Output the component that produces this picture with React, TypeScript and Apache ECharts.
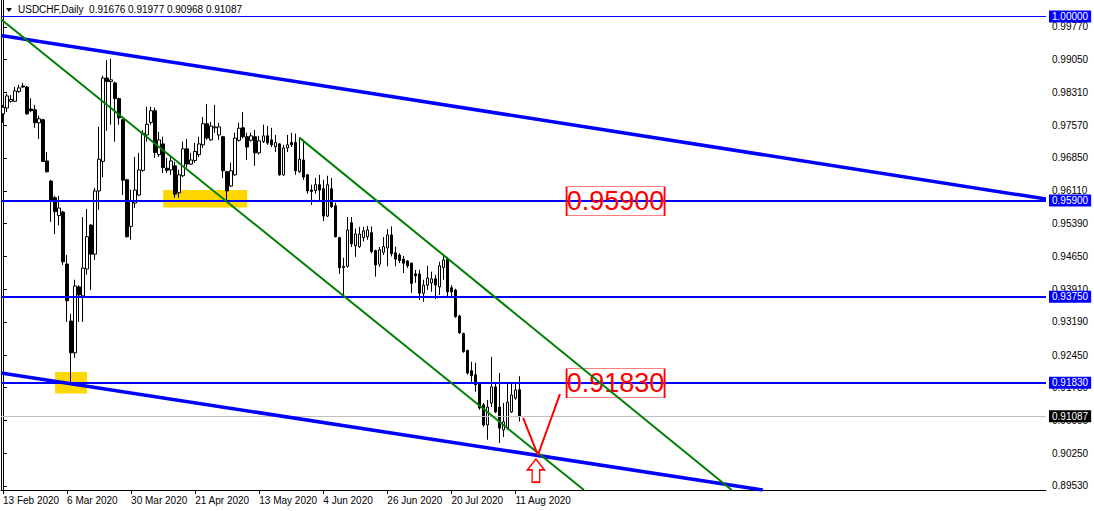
import React, { useEffect, useRef } from "react";
import * as echarts from "echarts";

// ---- Daily candles USDCHF (13 Feb 2020 onward) ----
const opens = [
  0.9783, 0.9796, 0.9811, 0.9811, 0.9833, 0.9845, 0.9843, 0.9794, 0.9792, 0.9763,
  0.9770, 0.9678, 0.9633, 0.9596, 0.9556, 0.9564, 0.9448, 0.9321, 0.9250, 0.9397,
  0.9377, 0.9437, 0.9535, 0.9470, 0.9611, 0.9677, 0.9863, 0.9855, 0.9852, 0.9817,
  0.9770, 0.9636, 0.9532, 0.9584, 0.9602, 0.9657, 0.9736, 0.9764, 0.9790, 0.9692,
  0.9716, 0.9662, 0.9658, 0.9667, 0.9607, 0.9645, 0.9705, 0.9671, 0.9679, 0.9692,
  0.9714, 0.9761, 0.9725, 0.9752, 0.9736, 0.9732, 0.9654, 0.9622, 0.9647, 0.9724,
  0.9752, 0.9732, 0.9724, 0.9732, 0.9696, 0.9721, 0.9734, 0.9725, 0.9710, 0.9716,
  0.9647, 0.9707, 0.9719, 0.9719, 0.9654, 0.9680, 0.9647, 0.9613, 0.9612, 0.9625,
  0.9616, 0.9555, 0.9616, 0.9578, 0.9507, 0.9440, 0.9443, 0.9540, 0.9489, 0.9487,
  0.9507, 0.9509, 0.9518, 0.9478, 0.9448, 0.9474, 0.9484, 0.9513, 0.9473, 0.9468,
  0.9459, 0.9455, 0.9450, 0.9426, 0.9426, 0.9383, 0.9401, 0.9406, 0.9415, 0.9397,
  0.9440, 0.9459, 0.9395, 0.9390, 0.9332, 0.9293, 0.9255, 0.9210, 0.9201, 0.9183,
  0.9134, 0.9089, 0.9138, 0.9174, 0.9129, 0.9078, 0.9082, 0.9118, 0.9149, 0.91676,
];
const highs = [
  0.9803, 0.9828, 0.9825, 0.9843, 0.9848, 0.9852, 0.9845, 0.9818, 0.9803, 0.9779,
  0.9772, 0.9698, 0.9636, 0.9600, 0.9600, 0.9567, 0.9468, 0.9337, 0.9413, 0.9401,
  0.9553, 0.9571, 0.9537, 0.9618, 0.9754, 0.9868, 0.9903, 0.9906, 0.9855, 0.9819,
  0.9772, 0.9638, 0.9614, 0.9687, 0.9696, 0.9747, 0.9799, 0.9799, 0.9797, 0.9743,
  0.9732, 0.9685, 0.9687, 0.9676, 0.9658, 0.9721, 0.9727, 0.9696, 0.9718, 0.9732,
  0.9776, 0.9805, 0.9765, 0.9803, 0.9763, 0.9734, 0.9656, 0.9674, 0.9741, 0.9763,
  0.9787, 0.9741, 0.9741, 0.9747, 0.9734, 0.9759, 0.9756, 0.9752, 0.9736, 0.9718,
  0.9714, 0.9736, 0.9741, 0.9739, 0.9730, 0.9725, 0.9649, 0.9625, 0.9640, 0.9647,
  0.9636, 0.9645, 0.9640, 0.9585, 0.9509, 0.9462, 0.9553, 0.9553, 0.9527, 0.9531,
  0.9531, 0.9533, 0.9532, 0.9480, 0.9486, 0.9508, 0.9526, 0.9532, 0.9487, 0.9472,
  0.9466, 0.9457, 0.9451, 0.9435, 0.9435, 0.9413, 0.9444, 0.9431, 0.9424, 0.9453,
  0.9466, 0.9464, 0.9401, 0.9393, 0.9335, 0.9295, 0.9257, 0.9230, 0.9228, 0.9185,
  0.9138, 0.9145, 0.9241, 0.9183, 0.9205, 0.9138, 0.9183, 0.9183, 0.9183, 0.91977,
];
const lows = [
  0.9763, 0.9787, 0.9808, 0.9810, 0.9830, 0.9841, 0.9781, 0.9787, 0.9752, 0.9727,
  0.9676, 0.9652, 0.9542, 0.9515, 0.9534, 0.9446, 0.9319, 0.9183, 0.9239, 0.9319,
  0.9319, 0.9424, 0.9390, 0.9457, 0.9569, 0.9642, 0.9745, 0.9759, 0.9721, 0.9759,
  0.9602, 0.9507, 0.9502, 0.9573, 0.9600, 0.9654, 0.9721, 0.9759, 0.9685, 0.9687,
  0.9651, 0.9651, 0.9647, 0.9596, 0.9596, 0.9642, 0.9663, 0.9669, 0.9674, 0.9687,
  0.9707, 0.9725, 0.9723, 0.9741, 0.9725, 0.9640, 0.9591, 0.9620, 0.9645, 0.9721,
  0.9728, 0.9680, 0.9721, 0.9667, 0.9692, 0.9718, 0.9714, 0.9709, 0.9698, 0.9645,
  0.9645, 0.9698, 0.9709, 0.9647, 0.9651, 0.9636, 0.9605, 0.9580, 0.9605, 0.9587,
  0.9544, 0.9553, 0.9573, 0.9507, 0.9426, 0.9375, 0.9440, 0.9486, 0.9464, 0.9484,
  0.9498, 0.9502, 0.9472, 0.9420, 0.9442, 0.9468, 0.9443, 0.9465, 0.9443, 0.9450,
  0.9428, 0.9439, 0.9384, 0.9406, 0.9368, 0.9364, 0.9390, 0.9386, 0.9370, 0.9379,
  0.9413, 0.9375, 0.9375, 0.9328, 0.9292, 0.9250, 0.9201, 0.9183, 0.9163, 0.9123,
  0.9085, 0.9056, 0.9129, 0.9116, 0.9049, 0.9062, 0.9078, 0.9116, 0.9145, 0.90968,
];
const closes = [
  0.9798, 0.9823, 0.9815, 0.9834, 0.9841, 0.9843, 0.9783, 0.9790, 0.9763, 0.9772,
  0.9677, 0.9654, 0.9589, 0.9565, 0.9573, 0.9453, 0.9366, 0.9250, 0.9399, 0.9379,
  0.9439, 0.9509, 0.9470, 0.9611, 0.9682, 0.9863, 0.9855, 0.9859, 0.9817, 0.9774,
  0.9635, 0.9509, 0.9588, 0.9613, 0.9658, 0.9740, 0.9760, 0.9790, 0.9697, 0.9725,
  0.9663, 0.9657, 0.9678, 0.9604, 0.9647, 0.9705, 0.9671, 0.9680, 0.9699, 0.9716,
  0.9761, 0.9729, 0.9756, 0.9754, 0.9754, 0.9656, 0.9611, 0.9656, 0.9729, 0.9751,
  0.9732, 0.9709, 0.9734, 0.9696, 0.9723, 0.9734, 0.9718, 0.9714, 0.9719, 0.9647,
  0.9707, 0.9714, 0.9714, 0.9656, 0.9682, 0.9642, 0.9611, 0.9610, 0.9625, 0.9613,
  0.9555, 0.9625, 0.9576, 0.9509, 0.9440, 0.9443, 0.9524, 0.9493, 0.9515, 0.9515,
  0.9522, 0.9524, 0.9476, 0.9446, 0.9480, 0.9487, 0.9513, 0.9471, 0.9459, 0.9456,
  0.9450, 0.9444, 0.9405, 0.9422, 0.9383, 0.9401, 0.9417, 0.9415, 0.9401, 0.9444,
  0.9457, 0.9386, 0.9386, 0.9331, 0.9295, 0.9253, 0.9205, 0.9199, 0.9179, 0.9127,
  0.9089, 0.9129, 0.9174, 0.9118, 0.9082, 0.9096, 0.9140, 0.9156, 0.9167, 0.91087,
];

const SYMBOL = "USDCHF,Daily";
const START_DATE = [2020, 1, 13]; // 13 Feb 2020
const MONTHS = ["Jan", "Feb", "Mar", "Apr", "May", "Jun", "Jul", "Aug", "Sep", "Oct", "Nov", "Dec"];
const TOTAL_SLOTS = 261; // bar slots across the chart width (empty ones on the right)
const LABEL_EVERY = 16;

// price-scale tick labels
const priceTicks = [0.9977, 0.9905, 0.9831, 0.9757, 0.9685, 0.9611, 0.9539, 0.9465, 0.9391, 0.9319, 0.9245, 0.9173, 0.9099, 0.9025, 0.8953];
const Y_MIN = 0.8944;
const Y_MAX = 1.0037;

// horizontal levels
const levels = [1.0, 0.959, 0.9375, 0.9183];
// trend lines: [barIndex, price] endpoints
const blueTrends = [
  [[-0.5, 0.9958], [260.5, 0.9593]],
  [[-0.5, 0.9205], [189.75, 0.8944]],
];
const greenTrends = [
  [[-0.5, 0.9994], [145.1, 0.8944]],
  [[74, 0.973], [182, 0.8944]],
];
// yellow zones: [[bar1, price1], [bar2, price2]]
const zones = [
  [[40, 0.9613], [61, 0.9574]],
  [[13, 0.9207], [21, 0.9159]],
];
const boxLabels = [
  { bar: 153, price: 0.9588, text: "0.95900" },
  { bar: 153, price: 0.9182, text: "0.91830" },
];
const vMark = [[129.9, 0.9105], [133.6, 0.9022], [139.1, 0.9158]];
const arrowMark = [133.1, 0.8987];

const FONT = "'Liberation Sans', Arial, sans-serif";

function buildDates(count: number): string[] {
  const out: string[] = [];
  const d = new Date(Date.UTC(START_DATE[0], START_DATE[1], START_DATE[2]));
  while (out.length < count) {
    const wd = d.getUTCDay();
    if (wd !== 0 && wd !== 6) {
      out.push(`${d.getUTCDate()} ${MONTHS[d.getUTCMonth()]} ${d.getUTCFullYear()}`);
    }
    d.setUTCDate(d.getUTCDate() + 1);
  }
  return out;
}

export default function App() {
  const ref = useRef<HTMLDivElement>(null);
  useEffect(() => {
    if (!ref.current) return;
    const chart = echarts.init(ref.current, undefined, { renderer: "svg" });
    const n = closes.length;
    const dates = buildDates(n);
    const categories: string[] = [];
    for (let i = 0; i < TOTAL_SLOTS; i++) categories.push(i < n ? dates[i] : "");
    const candles = opens.map((o, i) => [o, closes[i], lows[i], highs[i]]);
    const last = n - 1;
    const fmt = (v: number) => v.toFixed(5);
    const labelInterval = (index: number) => index % LABEL_EVERY === 0 && index < n;

    const levelLabel = (text: string, bg: string) => ({
      show: true,
      position: "end",
      distance: 3,
      formatter: text,
      backgroundColor: bg,
      color: "#ffffff",
      fontSize: 10,
      fontFamily: FONT,
      padding: [1, 3, 0, 3],
      lineHeight: 11,
    });

    const option: any = {
      animation: false,
      backgroundColor: "#ffffff",
      title: {
        text: `${SYMBOL}  ${fmt(opens[last])} ${fmt(highs[last])} ${fmt(lows[last])} ${fmt(closes[last])}`,
        left: 18,
        top: 4,
        padding: 0,
        textStyle: { fontSize: 10, fontWeight: "normal", color: "#000", fontFamily: FONT },
      },
      graphic: [
        { type: "polygon", shape: { points: [[6, 8], [12, 8], [9, 12]] }, style: { fill: "#000" } },
      ],
      grid: { left: 1, right: 48, top: 0, bottom: 21, containLabel: false },
      xAxis: [
        {
          type: "category",
          data: categories,
          boundaryGap: true,
          axisLine: { show: true, lineStyle: { color: "#000", width: 1 } },
          axisTick: { show: true, alignWithLabel: true, length: 4, interval: labelInterval, lineStyle: { color: "#000" } },
          axisLabel: { interval: labelInterval, align: "left", margin: 5, fontSize: 10, color: "#000", fontFamily: FONT },
          splitLine: { show: false },
        },
        { type: "value", min: -0.5, max: TOTAL_SLOTS - 0.5, show: false },
      ],
      yAxis: [
        {
          type: "value",
          position: "right",
          min: Y_MIN,
          max: Y_MAX,
          axisLine: { show: true, lineStyle: { color: "#000", width: 1 } },
          axisTick: { show: true, length: 4, customValues: priceTicks, lineStyle: { color: "#000" } },
          axisLabel: { customValues: priceTicks, formatter: (v: number) => fmt(v), fontSize: 10, color: "#000", margin: 6, fontFamily: FONT },
          splitLine: { show: false },
        },
        {
          type: "value",
          position: "left",
          min: Y_MIN,
          max: Y_MAX,
          axisLine: { show: true, lineStyle: { color: "#000", width: 1 } },
          axisTick: { show: false },
          axisLabel: { show: false },
          splitLine: { show: false },
        },
      ],
      series: [
        {
          type: "line",
          name: "zones",
          xAxisIndex: 1,
          yAxisIndex: 0,
          data: [],
          z: 1,
          silent: true,
          markArea: {
            silent: true,
            itemStyle: { color: "#FFD700" },
            data: zones.map((z) => [{ coord: z[0] }, { coord: z[1] }]),
          },
        },
        {
          type: "candlestick",
          name: SYMBOL,
          xAxisIndex: 0,
          yAxisIndex: 0,
          data: candles,
          barWidth: 3,
          z: 2,
          itemStyle: { color: "#ffffff", color0: "#000000", borderColor: "#000000", borderColor0: "#000000", borderWidth: 1 },
        },
        {
          type: "line",
          name: "levels",
          xAxisIndex: 1,
          yAxisIndex: 0,
          data: [],
          z: 4,
          markLine: {
            silent: true,
            precision: 6,
            symbol: ["none", "none"],
            animation: false,
            data: [
              { yAxis: closes[last], lineStyle: { color: "#c0c0c0", width: 1, type: "solid" }, label: levelLabel(fmt(closes[last]), "#000000") },
              ...levels.map((lv, i) => ({
                yAxis: lv,
                lineStyle: { color: "#0000ff", width: i === 0 ? 1 : 2, type: "solid" },
                label: levelLabel(fmt(lv), "#0000ff"),
              })),
            ],
          },
        },
        ...blueTrends.map((t) => ({
          type: "line",
          xAxisIndex: 1,
          yAxisIndex: 0,
          data: t,
          symbol: "none",
          z: 5,
          silent: true,
          lineStyle: { color: "#0000ff", width: 3.5 },
        })),
        ...greenTrends.map((t) => ({
          type: "line",
          xAxisIndex: 1,
          yAxisIndex: 0,
          data: t,
          symbol: "none",
          z: 5,
          silent: true,
          lineStyle: { color: "#008000", width: 2 },
        })),
        {
          type: "line",
          xAxisIndex: 1,
          yAxisIndex: 0,
          data: vMark,
          symbol: "none",
          z: 6,
          silent: true,
          lineStyle: { color: "#ff0000", width: 2 },
          markPoint: {
            silent: true,
            animation: false,
            data: [
              ...boxLabels.map((b) => ({
                coord: [b.bar, b.price],
                symbol: "rect",
                symbolSize: [98, 29],
                itemStyle: { color: "rgba(255,255,255,0)", borderColor: "#ff0000", borderWidth: 1 },
                label: { show: true, position: "inside", formatter: b.text, color: "#ff0000", fontSize: 27, fontFamily: FONT },
              })),
              {
                coord: arrowMark,
                symbol: "path://M9,0 L18,11 L13,11 L13,24 L5,24 L5,11 L0,11 Z",
                symbolSize: [17, 23],
                itemStyle: { color: "#ffffff", borderColor: "#ff0000", borderWidth: 1.5 },
                label: { show: false },
              },
            ],
          },
        },
      ],
    };
    chart.setOption(option);
    return () => chart.dispose();
  }, []);
  return <div ref={ref} style={{ position: "fixed", left: 0, top: 0, width: 1094, height: 511 }} />;
}
